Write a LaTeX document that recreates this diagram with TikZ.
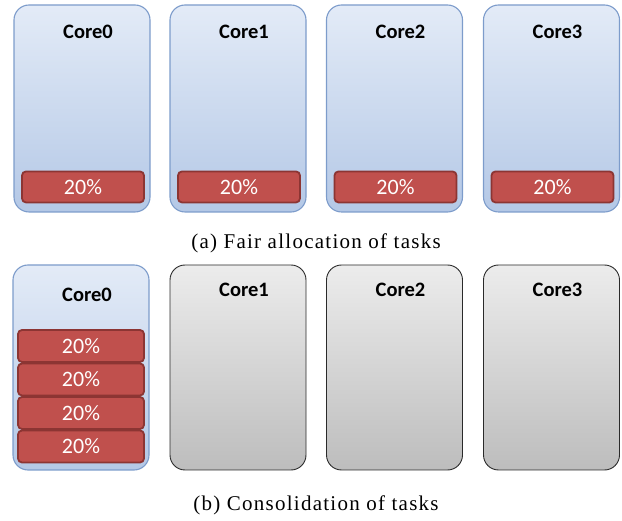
\documentclass[tikz,border=0pt]{standalone}
\usepackage{fontspec}
\usetikzlibrary{calc}
\setmainfont{Liberation Serif}
\newfontfamily\capfont[LetterSpace=6]{Liberation Serif}
\newfontfamily\calibri{Carlito}
\definecolor{bluetop}{HTML}{E3EBF7}
\definecolor{bluebot}{HTML}{B4C8E6}
\definecolor{blueedge}{HTML}{7D9CCB}
\definecolor{greytop}{HTML}{ECECEC}
\definecolor{greybot}{HTML}{BDBDBD}
\definecolor{greyedge}{HTML}{2A2A2A}
\definecolor{taskfill}{HTML}{C0504D}
\definecolor{taskedge}{HTML}{8C3533}
\tikzset{
  bluecore/.style={rectangle, rounded corners=15pt, draw=blueedge, line width=1.1pt,
    top color=bluetop, bottom color=bluebot, minimum width=136pt, inner sep=0pt},
  greycore/.style={rectangle, rounded corners=15pt, draw=greyedge, line width=0.9pt,
    top color=greytop, bottom color=greybot, minimum width=136pt, minimum height=205pt, inner sep=0pt},
  corelabel/.style={font=\calibri\bfseries\fontsize{20.5}{22}\selectfont, text=black, inner sep=0pt},
  task/.style={rectangle, rounded corners=4pt, draw=taskedge, line width=1.8pt, fill=taskfill,
    text=white, font=\calibri\fontsize{22}{24}\selectfont, inner sep=0pt},
  caption/.style={font=\capfont\fontsize{21}{24}\selectfont, inner sep=0pt}
}
\begin{document}
\begin{tikzpicture}[x=1pt,y=-1pt]
\useasboundingbox (0,0) rectangle (622,521);
% (a)
\node[bluecore, minimum height=207pt] (a0) at (82,108.5) {};
\node[bluecore, minimum height=207pt] (a1) at (238,108.5) {};
\node[bluecore, minimum height=207pt] (a2) at (394.5,108.5) {};
\node[bluecore, minimum height=207pt] (a3) at (551.5,108.5) {};
\foreach \i/\n in {0/Core0,1/Core1,2/Core2,3/Core3}{
  \node[corelabel] (la\i) at ($(a\i.north)+(6,27)$) {\n};
  \node[task, minimum width=122pt, minimum height=31pt] (ta\i) at ($(a\i.north)+(1,182.5)$) {20\%};
}
\node[caption] (capa) at (316,243) {(a) Fair allocation of tasks};
% (b)
\node[bluecore, minimum height=205pt] (b0) at (81,367.5) {};
\node[greycore] (b1) at (238,367.5) {};
\node[greycore] (b2) at (394.5,367.5) {};
\node[greycore] (b3) at (551.5,367.5) {};
\node[corelabel] (lb0) at ($(b0.north)+(6,30)$) {Core0};
\node[corelabel] (lb1) at ($(b1.north)+(6,25)$) {Core1};
\node[corelabel] (lb2) at ($(b2.north)+(6,25)$) {Core2};
\node[corelabel] (lb3) at ($(b3.north)+(6,25)$) {Core3};
\foreach \j/\yy in {1/346,2/379.5,3/413,4/446.5}{
  \node[task, minimum width=126pt, minimum height=32pt] (tb\j) at (81,\yy) {20\%};
}
\node[caption] (capb) at (316,505) {(b) Consolidation of tasks};
\end{tikzpicture}
\end{document}
